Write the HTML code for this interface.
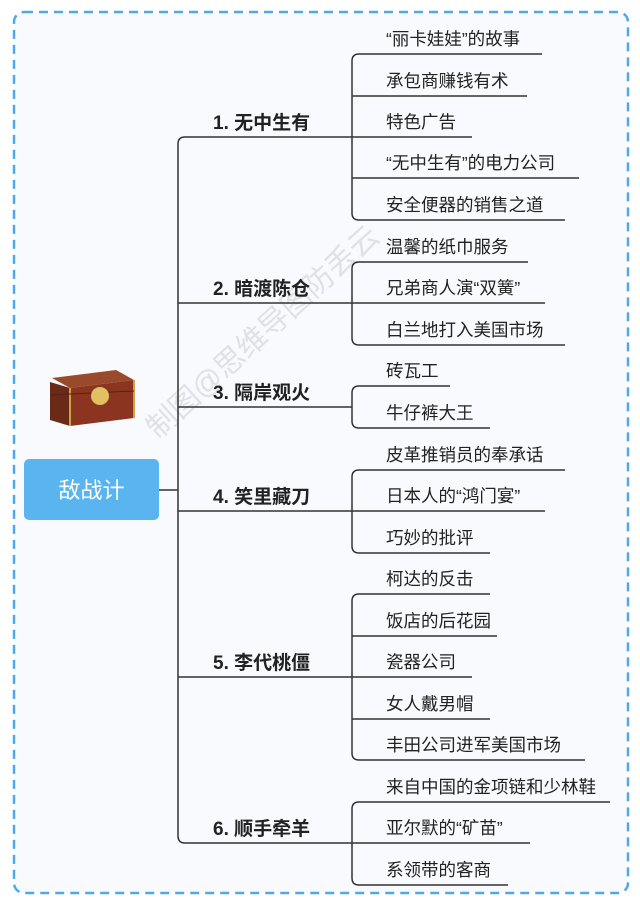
<!DOCTYPE html>
<html><head><meta charset="utf-8"><style>
html,body{margin:0;padding:0;background:#fff}
svg text{font-family:"Liberation Sans","Noto Sans CJK SC",sans-serif}
</style></head><body>
<svg width="640" height="905" viewBox="0 0 640 905" xmlns="http://www.w3.org/2000/svg">
<rect x="0" y="0" width="640" height="905" fill="#fff"/>
<rect x="14" y="12" width="614" height="881" rx="10" fill="#f8fafd" stroke="#4ea9ea" stroke-width="2.5" stroke-dasharray="9,6"/>
<text x="0" y="0" transform="translate(158,440) rotate(-42)" font-size="30" fill="#d4d8dc" opacity="0.7">制图@思维导图防丢云</text>
<!-- chest -->
<g>
<polygon points="52,378 116,370 134,380 70,388" fill="#9a4a2c"/>
<polygon points="50,382 70,388 70,426 50,420" fill="#6a2a18"/>
<polygon points="70,388 134,380 134,418 70,426" fill="#8b3420"/>
<line x1="70" y1="388" x2="70" y2="426" stroke="#c9a24a" stroke-width="2"/>
<line x1="134" y1="380" x2="134" y2="418" stroke="#c9a24a" stroke-width="2"/>
<line x1="50" y1="395" x2="134" y2="391" stroke="#5a2010" stroke-width="1"/>
<circle cx="100" cy="396" r="9" fill="#e0c060"/>
</g>
<!-- root -->
<rect x="24" y="459" width="135" height="61" rx="5" fill="#5ab4ef"/>
<text x="91.5" y="498" font-size="22" fill="#fff" text-anchor="middle">敌战计</text>
<g stroke="#333" stroke-width="1.5" fill="none">
<line x1="159" y1="490" x2="178" y2="490"/>
<path d="M352,137 H185 Q178,137 178,144 V836 Q178,843 185,843 H352"/>
<line x1="178" y1="303" x2="352" y2="303"/>
<line x1="178" y1="407" x2="352" y2="407"/>
<line x1="178" y1="511" x2="352" y2="511"/>
<line x1="178" y1="677" x2="352" y2="677"/>
<path d="M542,54 H359 Q352,54 352,61 V213 Q352,220 359,220 H565"/>
<line x1="352" y1="96" x2="527" y2="96"/><line x1="352" y1="137" x2="472" y2="137"/><line x1="352" y1="178" x2="579" y2="178"/>
<path d="M528,262 H359 Q352,262 352,269 V338 Q352,345 359,345 H565"/>
<line x1="352" y1="303" x2="545" y2="303"/>
<path d="M450,386 H359 Q352,386 352,393 V421 Q352,428 359,428 H490"/>
<path d="M565,470 H359 Q352,470 352,477 V546 Q352,553 359,553 H490"/>
<line x1="352" y1="511" x2="545" y2="511"/>
<path d="M490,594 H359 Q352,594 352,601 V753 Q352,760 359,760 H585"/>
<line x1="352" y1="636" x2="497" y2="636"/><line x1="352" y1="677" x2="472" y2="677"/><line x1="352" y1="719" x2="490" y2="719"/>
<path d="M610,802 H359 Q352,802 352,809 V878 Q352,885 359,885 H508"/>
<line x1="352" y1="843" x2="530" y2="843"/>
</g>
<g font-size="19" font-weight="bold" fill="#222">
<text x="213" y="129">1. 无中生有</text>
<text x="213" y="295">2. 暗渡陈仓</text>
<text x="213" y="399">3. 隔岸观火</text>
<text x="213" y="503">4. 笑里藏刀</text>
<text x="213" y="669">5. 李代桃僵</text>
<text x="213" y="835">6. 顺手牵羊</text>
</g>
<g font-size="17.5" fill="#222">
<text x="386" y="45">“丽卡娃娃”的故事</text>
<text x="386" y="87">承包商赚钱有术</text>
<text x="386" y="128">特色广告</text>
<text x="386" y="169">“无中生有”的电力公司</text>
<text x="386" y="211">安全便器的销售之道</text>
<text x="386" y="253">温馨的纸巾服务</text>
<text x="386" y="294">兄弟商人演“双簧”</text>
<text x="386" y="336">白兰地打入美国市场</text>
<text x="386" y="377">砖瓦工</text>
<text x="386" y="419">牛仔裤大王</text>
<text x="386" y="461">皮革推销员的奉承话</text>
<text x="386" y="502">日本人的“鸿门宴”</text>
<text x="386" y="544">巧妙的批评</text>
<text x="386" y="585">柯达的反击</text>
<text x="386" y="627">饭店的后花园</text>
<text x="386" y="668">瓷器公司</text>
<text x="386" y="710">女人戴男帽</text>
<text x="386" y="751">丰田公司进军美国市场</text>
<text x="386" y="793">来自中国的金项链和少林鞋</text>
<text x="386" y="834">亚尔默的“矿苗”</text>
<text x="386" y="876">系领带的客商</text>
</g>
</svg>
</body></html>
